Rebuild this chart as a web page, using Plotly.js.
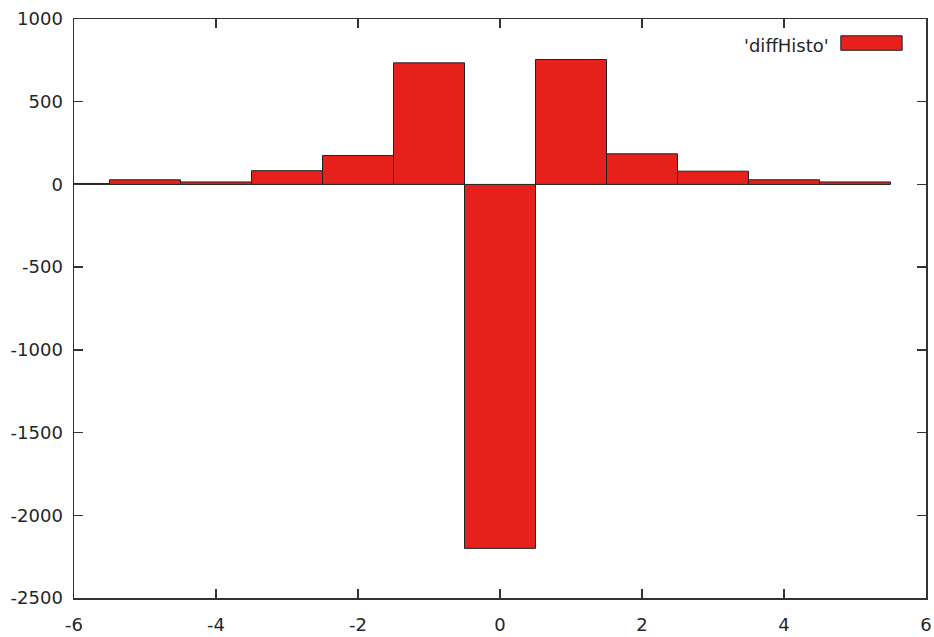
<!DOCTYPE html>
<html>
<head>
<meta charset="utf-8">
<script src="https://cdn.plot.ly/plotly-3.0.1.min.js"></script>
<style>html,body{margin:0;padding:0;background:#fff;}#chart{width:934px;height:637px;}</style>
</head>
<body>
<div id="chart"></div>
<script>
const binCenters = [-6, -5, -4, -3, -2, -1, 0, 1, 2, 3, 4, 5];
const counts = [6, 28, 15, 83, 175, 735, -2200, 755, 185, 80, 28, 15];
const seriesName = "'diffHisto'";
const xTicks = [-6, -4, -2, 0, 2, 4, 6];
const xTickText = ["-6", "-4", "-2", "0", "2", "4", "6"];
const yTicks = [1000, 500, 0, -500, -1000, -1500, -2000, -2500];
const yTickText = ["1000", "500", "0", "-500", "-1000", "-1500", "-2000", "-2500"];

const trace = {
  type: 'bar',
  x: binCenters,
  y: counts,
  width: 1,
  name: seriesName,
  marker: {color: '#e6201b', line: {color: '#222', width: 1}},
  showlegend: false,
  cliponaxis: true
};

const axisCommon = {
  showgrid: false, zeroline: false, showline: true, mirror: 'ticks',
  linecolor: '#333', linewidth: 1.5, ticks: 'inside', ticklen: 9,
  tickcolor: '#333', tickwidth: 1.5,
  tickfont: {family: 'DejaVu Sans, sans-serif', size: 18, color: '#262626'}
};

const layout = {
  width: 934, height: 637,
  margin: {l: 74, r: 8, t: 19, b: 39},
  paper_bgcolor: '#fff', plot_bgcolor: '#fff',
  bargap: 0,
  xaxis: Object.assign({}, axisCommon, {range: [-6, 6], tickvals: xTicks, ticktext: xTickText, ticklabelstandoff: 10}),
  yaxis: Object.assign({}, axisCommon, {range: [-2500, 1000], tickvals: yTicks, ticktext: yTickText, ticklabelstandoff: 6}),
  annotations: [{
    xref: 'paper', yref: 'paper', x: 0.889, y: 0.955, xanchor: 'right', yanchor: 'middle',
    text: seriesName, showarrow: false,
    font: {family: 'DejaVu Sans, sans-serif', size: 18, color: '#262626'}
  }],
  shapes: [{
    type: 'rect', xref: 'paper', yref: 'paper',
    x0: 0.900, x1: 0.972, y0: 0.946, y1: 0.971,
    fillcolor: '#e6201b', line: {color: '#222', width: 1}
  }]
};

Plotly.newPlot('chart', [trace], layout, {displayModeBar: false, staticPlot: true});
</script>
</body>
</html>
